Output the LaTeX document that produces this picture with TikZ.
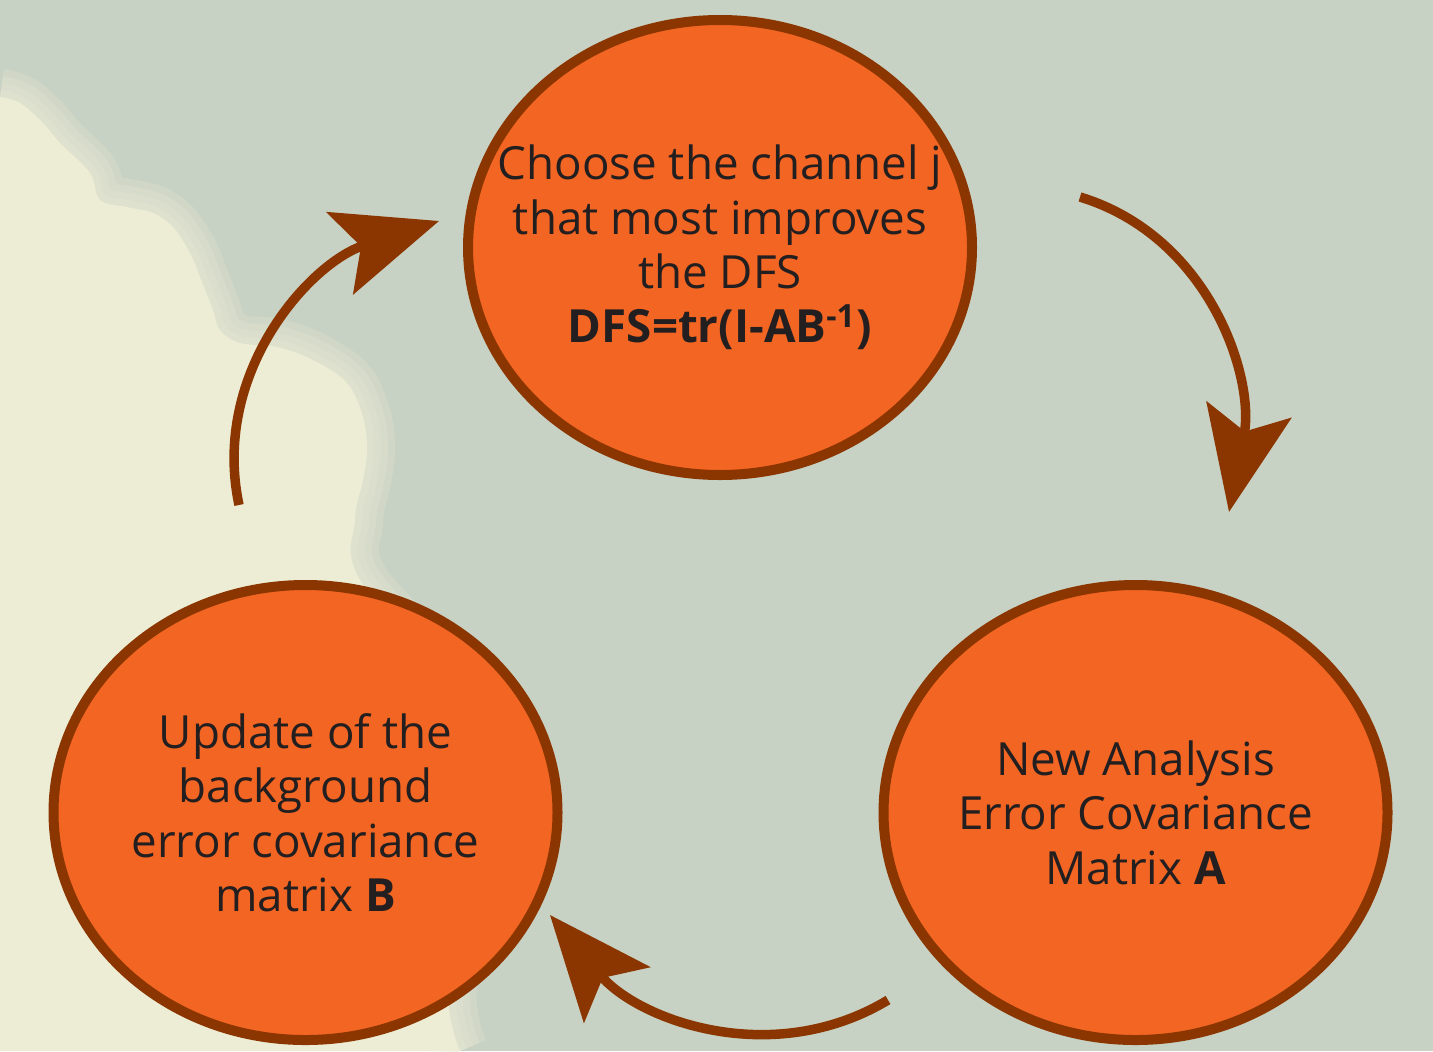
\documentclass[tikz,border=0pt]{standalone}
\usepackage{fontspec}
\setmainfont{Open Sans}
\usetikzlibrary{shapes.geometric,positioning,arrows.meta}

\definecolor{sky}{HTML}{C8D2C4}
\definecolor{cloud}{HTML}{EDEDD5}
\definecolor{blob}{HTML}{F26522}
\definecolor{rim}{HTML}{8B3600}
\definecolor{ink}{HTML}{231F20}

\tikzset{
    stage/.style={ellipse, draw=rim, fill=blob, line width=1mm,
        minimum width=5.04cm, minimum height=4.55cm, inner sep=-1.2cm,
        align=center, text=ink, font=\fontsize{13pt}{15.5pt}\selectfont},
    turn/.style={draw=rim, line width=0.95mm,
        -{Stealth[length=10.4mm, width=8.6mm, inset=2.2mm]}},
    haze/.style={cloud, opacity=0.22, line join=round}
}

\newcommand{\cloudLine}{(0,-0.97) (0.20,-1.03) (0.43,-1.23) (0.60,-1.43) (0.90,-1.73)
    (1.00,-2.00) (1.27,-2.07) (1.53,-2.13) (1.73,-2.27) (1.90,-2.53) (2.00,-2.77)
    (2.13,-3.10) (2.20,-3.30) (2.40,-3.43) (2.77,-3.47) (3.13,-3.60) (3.47,-3.83)
    (3.63,-4.17) (3.67,-4.50) (3.63,-4.80) (3.55,-5.20) (3.60,-5.80) (4.60,-7.00)
    (5.00,-8.50) (4.50,-9.80) (4.60,-10.51)}

\begin{document}
\begin{tikzpicture}
    \useasboundingbox (0,0) rectangle (14.33,-10.51);
    \fill[sky] (0,0) rectangle (14.33,-10.51);
    \foreach \w in {16pt,12pt,8pt,4pt}
        \draw[haze, line width=\w] plot[smooth, tension=0.6] coordinates {\cloudLine};
    \fill[cloud] plot[smooth, tension=0.6] coordinates {\cloudLine} -- (0,-10.51) -- cycle;

    \node[stage] (chooseChannel) at (7.20,-2.475)
        {Choose the channel j\\that most improves\\the DFS\\\textbf{DFS=tr(I-AB\textsuperscript{-1})}};
    \node[stage, on grid, below left=5.65cm and 4.145cm of chooseChannel] (updateB)
        {Update of the\\background\\error covariance\\matrix \textbf{B}};
    \node[stage, on grid, right=8.3cm of updateB] (newAnalysis)
        {New Analysis\\Error Covariance\\Matrix \textbf{A}};

    \coordinate (turnOneStart) at (10.80,-1.97);
    \coordinate (turnOneTip) at (12.29,-5.12);
    \coordinate (turnTwoStart) at (8.88,-10.00);
    \coordinate (turnTwoTip) at (5.50,-9.15);
    \coordinate (turnThreeStart) at (2.39,-5.05);
    \coordinate (turnThreeTip) at (4.39,-2.21);

    \draw[turn] (turnOneStart) to[out=-17, in=79] (turnOneTip);
    \draw[turn] (turnTwoStart) to[out=211, in=-50] (turnTwoTip);
    \draw[turn] (turnThreeStart) to[out=102, in=198] (turnThreeTip);
\end{tikzpicture}
\end{document}
